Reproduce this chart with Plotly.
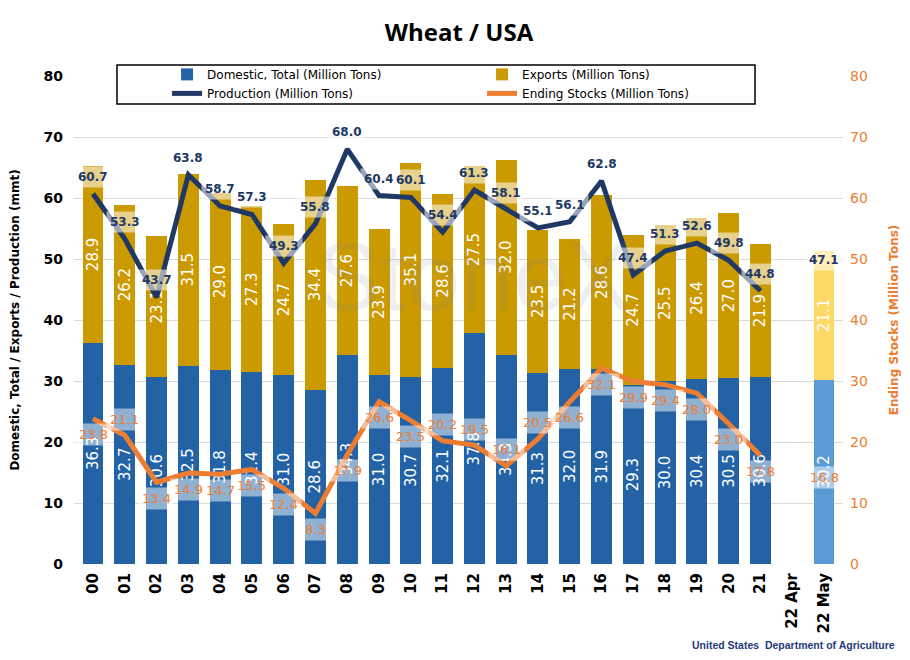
import plotly.graph_objects as go

# ---- data ----
years = ["00", "01", "02", "03", "04", "05", "06", "07", "08", "09", "10", "11",
         "12", "13", "14", "15", "16", "17", "18", "19", "20", "21", "22 Apr", "22 May"]
domestic = [36.3, 32.7, 30.6, 32.5, 31.8, 31.4, 31.0, 28.6, 34.3, 31.0, 30.7, 32.1,
            37.8, 34.3, 31.3, 32.0, 31.9, 29.3, 30.0, 30.4, 30.5, 30.6, None, 30.2]
exports = [28.9, 26.2, 23.1, 31.5, 29.0, 27.3, 24.7, 34.4, 27.6, 23.9, 35.1, 28.6,
           27.5, 32.0, 23.5, 21.2, 28.6, 24.7, 25.5, 26.4, 27.0, 21.9, None, 21.1]
production = [60.7, 53.3, 43.7, 63.8, 58.7, 57.3, 49.3, 55.8, 68.0, 60.4, 60.1, 54.4,
              61.3, 58.1, 55.1, 56.1, 62.8, 47.4, 51.3, 52.6, 49.8, 44.8, None, 47.1]
ending_stocks = [23.8, 21.1, 13.4, 14.9, 14.7, 15.5, 12.4, 8.3, 17.9, 26.6, 23.5, 20.2,
                 19.5, 16.1, 20.5, 26.6, 32.1, 29.9, 29.4, 28.0, 23.0, 17.8, None, 16.8]

# stock labels that sit above their point (the rest sit below)
stocks_label_above = {"01", "11", "12", "13", "14"}

BLUE = "#2262A5"
GOLD = "#CB9A00"
NAVY = "#203864"
ORANGE = "#ED7D31"
FONT = "DejaVu Sans"

dom_colors = ["#5B9BD5" if y == "22 May" else BLUE for y in years]
exp_colors = ["#FFD966" if y == "22 May" else GOLD for y in years]

fig = go.Figure()

fig.add_trace(go.Bar(
    x=years, y=domestic, name="Domestic, Total (Million Tons)",
    marker=dict(color=dom_colors, line=dict(width=0)),
    text=[f"{v:.1f}" if v is not None else "" for v in domestic],
    textposition="inside", insidetextanchor="middle", textangle=-90,
    constraintext="none",
    textfont=dict(family=FONT, size=15, color="white"),
))
fig.add_trace(go.Bar(
    x=years, y=exports, name="Exports (Million Tons)",
    marker=dict(color=exp_colors, line=dict(width=0)),
    text=[f"{v:.1f}" if v is not None else "" for v in exports],
    textposition="inside", insidetextanchor="middle", textangle=-90,
    constraintext="none",
    textfont=dict(family=FONT, size=15, color="white"),
))
fig.add_trace(go.Scatter(
    x=years, y=production, name="Production (Million Tons)",
    mode="lines", line=dict(color=NAVY, width=5), connectgaps=False,
))
fig.add_trace(go.Scatter(
    x=years, y=ending_stocks, name="Ending Stocks (Million Tons)",
    mode="lines", line=dict(color=ORANGE, width=5), connectgaps=False,
    yaxis="y2",
))

# data labels with a translucent box
for yr, v in zip(years, production):
    if v is None:
        continue
    fig.add_annotation(x=yr, y=v, text=f"<b>{v:.1f}</b>", showarrow=False, yshift=17,
                       font=dict(family=FONT, size=12, color=NAVY),
                       bgcolor="rgba(255,255,255,0.55)", borderpad=3)
for yr, v in zip(years, ending_stocks):
    if v is None:
        continue
    shift = 16 if yr in stocks_label_above else -16
    fig.add_annotation(x=yr, y=v, yref="y2", text=f"{v:.1f}", showarrow=False,
                       yshift=shift,
                       font=dict(family=FONT, size=13, color=ORANGE),
                       bgcolor="rgba(255,255,255,0.5)", borderpad=3)

# watermark
fig.add_annotation(x=0.52, y=0.59, xref="paper", yref="paper", text="StoneX",
                   showarrow=False, opacity=0.12,
                   font=dict(family="Liberation Sans", size=96, color="#6F84A3"))

# footer
fig.add_annotation(x=1.07, y=-0.166, xref="paper", yref="paper", xanchor="right",
                   yanchor="middle",
                   text="<b>United States  Department of Agriculture</b>", showarrow=False,
                   font=dict(family="Liberation Sans", size=10.5, color="#1F3A7A"))

# legend frame
fig.add_shape(type="rect", xref="paper", yref="paper",
              x0=0.0559, x1=0.8856, y0=0.9426, y1=1.0225,
              line=dict(color="black", width=1.5), fillcolor="white", layer="below")

# the page body has an 8px margin, so the figure is 8px smaller each way
fig.update_layout(
    width=902, height=652,
    margin=dict(l=66, r=67, t=68, b=96, autoexpand=False),
    paper_bgcolor="white", plot_bgcolor="white",
    barmode="stack", bargap=0.34,
    title=dict(text="<b>Wheat / USA</b>", x=0.5, xanchor="center",
               y=1 - 25 / 652, yanchor="middle",
               font=dict(family="Open Sans", size=24, color="black")),
    font=dict(family=FONT, color="black"),
    showlegend=True,
    legend=dict(orientation="h", x=0.121, y=1.033, xanchor="left", yanchor="top",
                traceorder="normal",
                entrywidth=270, entrywidthmode="pixels", itemwidth=30,
                bgcolor="rgba(0,0,0,0)", tracegroupgap=0,
                font=dict(family=FONT, size=12, color="black")),
    xaxis=dict(tickangle=-90,
               tickfont=dict(family=FONT, size=15, color="black", weight="bold"),
               ticklabelstandoff=5,
               showline=False, ticks="", showgrid=False),
    yaxis=dict(range=[0, 80], dtick=10, showgrid=True, gridcolor="#D9D9D9",
               zeroline=True, zerolinecolor="#D9D9D9",
               tickfont=dict(family=FONT, size=14, color="black", weight="bold"),
               ticklabelstandoff=10,
               title=dict(text="<b>Domestic, Total / Exports / Production (mmt)</b>",
                          font=dict(family=FONT, size=12, color="black"), standoff=21)),
    yaxis2=dict(range=[0, 80], dtick=10, overlaying="y", side="right", showgrid=False,
                tickfont=dict(family=FONT, size=14, color=ORANGE),
                ticklabelstandoff=6,
                title=dict(text="<b>Ending Stocks (Million Tons)</b>",
                           font=dict(family=FONT, size=12, color=ORANGE), standoff=22)),
)

fig.write_html("out.html")
